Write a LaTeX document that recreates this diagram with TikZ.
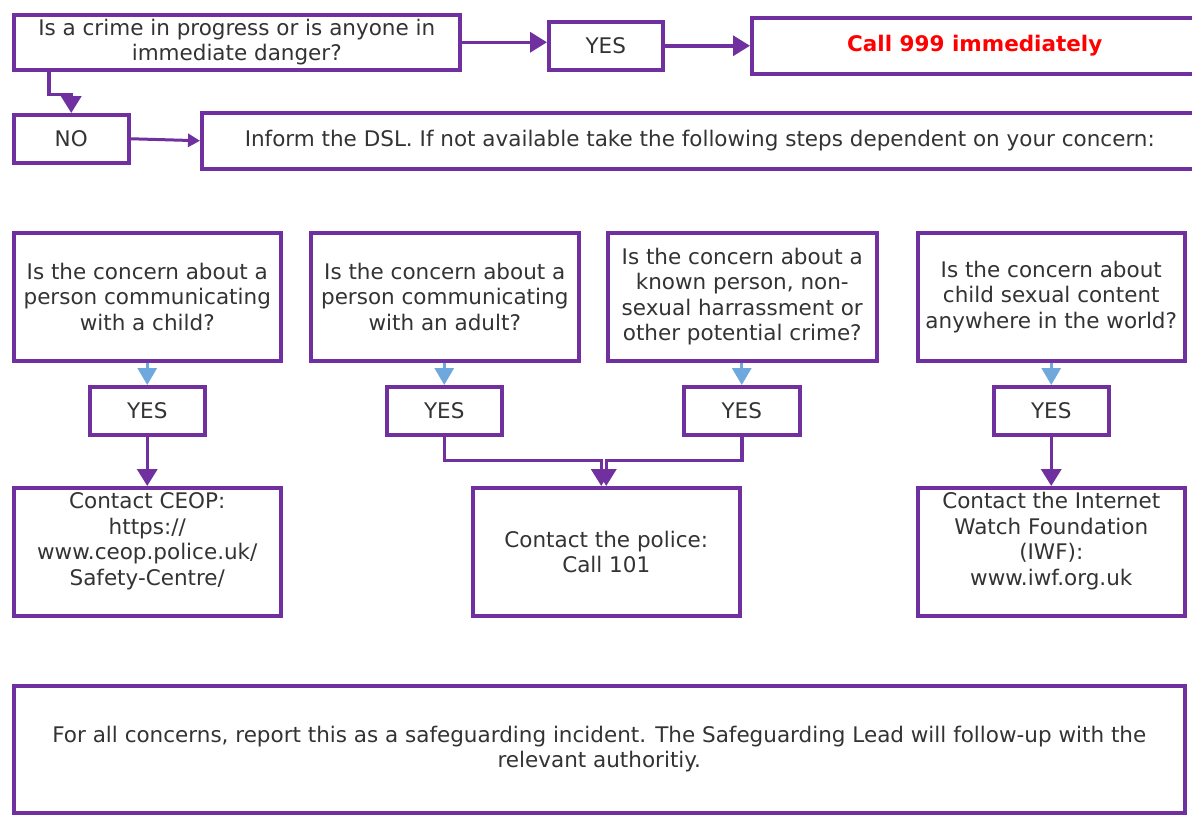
\documentclass[tikz,border=0pt]{standalone}
\usepackage{fontspec}
\setmainfont{DejaVu Sans}
\usetikzlibrary{arrows.meta}
\definecolor{pur}{HTML}{7030A0}
\definecolor{lb}{HTML}{6FA8DC}
\definecolor{txt}{HTML}{333333}
\definecolor{alarm}{HTML}{FF0000}
\newcommand\bx[6]{\node[box, anchor=north west, minimum width={#4-#2}, minimum height={#5-#3}] (#1) at (#2,#3) {#6};}
\begin{document}
\begin{tikzpicture}[x=1pt,y=-1pt,
  box/.style={draw=pur, line width=3.5pt, fill=white, text=txt, align=center, inner sep=0pt,
    font=\fontsize{21.5}{25.5}\selectfont},
  parr/.style={draw=pur, line width=3.5pt, -{Triangle[width=20pt,length=17pt]}},
  sarr/.style={draw=pur, line width=3pt, -{Triangle[width=13pt,length=12pt]}},
  barr/.style={draw=lb, line width=3pt, -{Triangle[width=19pt,length=17pt]}}]
\useasboundingbox (0,0) rectangle (1192,815);
\bx{q1}{12}{13}{458}{68}{Is a crime in progress or is anyone in\\immediate danger?}
\bx{yes1}{547}{20}{661}{68}{YES}
\bx{call}{750}{16}{1196}{72}{\textcolor{alarm}{\bfseries Call 999 immediately}}
\bx{no}{12}{113}{127}{161}{NO}
\bx{inform}{200}{111}{1196}{167}{Inform the DSL. If not available take the following steps dependent on your concern:}
\bx{qa}{12}{231}{279}{359}{Is the concern about a\\person communicating\\with a child?}
\bx{qb}{309}{231}{577}{359}{Is the concern about a\\person communicating\\with an adult?}
\bx{qc}{606}{231}{875}{359}{Is the concern about a\\known person, non-\\sexual harrassment or\\other potential crime?}
\bx{qd}{916}{231}{1183}{359}{Is the concern about\\child sexual content\\anywhere in the world?}
\bx{ya}{88}{385}{203}{433}{YES}
\bx{yb}{385}{385}{500}{433}{YES}
\bx{yc}{682}{385}{798}{433}{YES}
\bx{yd}{992}{385}{1107}{433}{YES}
\bx{ceop}{12}{486}{279}{614}{Contact CEOP:\\https://\\www.ceop.police.uk/\\Safety-Centre/\\\mbox{}}
\bx{police}{471}{486}{738}{614}{Contact the police:\\Call 101}
\bx{iwf}{916}{486}{1183}{614}{Contact the Internet\\Watch Foundation\\(IWF):\\www.iwf.org.uk\\\mbox{}}
\bx{bottom}{12}{684}{1183}{811}{For all concerns, report this as a safeguarding incident. The Safeguarding Lead will follow-up with the\\relevant authoritiy.}
% top connectors
\draw[parr] (q1.east) -- (yes1.west |- q1.east);
\draw[parr] (yes1.east) -- (call.west |- yes1.east);
\draw[parr] ([xshift=37]q1.south west) -- ++(0,23) -| (no.north);
\draw[sarr] (no.east) -- (inform.west);
% question to yes
\draw[barr] (qa.south -| ya.north) -- (ya.north);
\draw[barr] (qb.south -| yb.north) -- (yb.north);
\draw[barr] (qc.south -| yc.north) -- (yc.north);
\draw[barr] (qd.south -| yd.north) -- (yd.north);
% yes to results
\draw[parr] (ya.south) -- (ceop.north -| ya.south);
\draw[parr] (yb.south) -- ++(0,24) -| ([xshift=-5]police.north);
\draw[parr] (yc.south) -- ++(0,24) -| ([xshift=0]police.north);
\draw[parr] (yd.south) -- (iwf.north -| yd.south);
\end{tikzpicture}
\end{document}
